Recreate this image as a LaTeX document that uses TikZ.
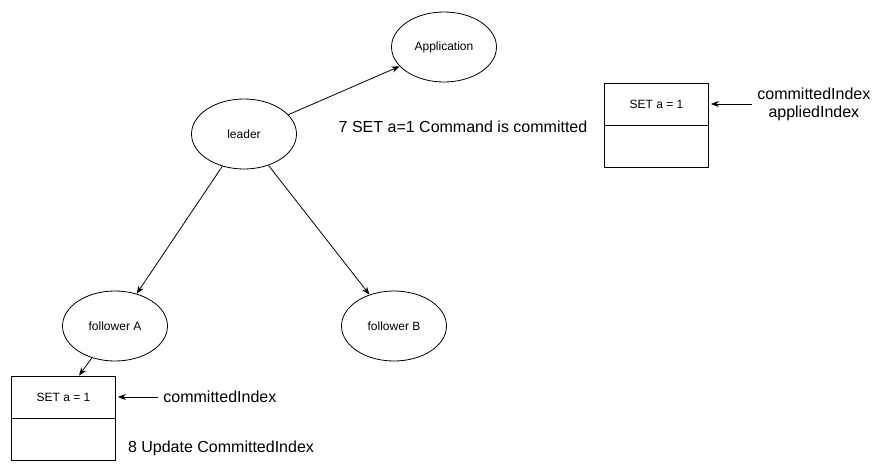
\documentclass[tikz,border=0pt]{standalone}
\usepackage{fontspec}
\setmainfont{Liberation Sans}
\usetikzlibrary{arrows.meta, positioning, shapes.geometric}

\begin{document}
\begin{tikzpicture}[->, >={Stealth[length=8pt, width=6pt]},
			x=1pt, y=-1pt, line width=0.8pt,
			every node/.style={font=\fontsize{12}{14}\selectfont},
			proc/.style={ellipse, draw, minimum width=105pt, minimum height=70pt, inner sep=0pt},
			cell/.style={rectangle, draw, minimum width=104pt, minimum height=42pt, inner sep=0pt},
			note/.style={font=\fontsize{16}{18}\selectfont, inner sep=3pt}]
			
			\useasboundingbox (0,0) rectangle (887,472);
			
			% Nodi del cluster
			\node[proc] (app) at (444,47) {Application};
			\node[proc] (leader) at (244,134) {leader};
			\node[proc] (folA) at (115,326) {follower A};
			\node[proc] (folB) at (394,326) {follower B};
			
			% Log del leader
			\node[cell] (logB1) at (656.5,104) {SET a = 1};
			\node[cell, below=0pt of logB1] (logB2) {};
			\node[note, align=center, anchor=west] (idxB) at (754,104) {committedIndex\\appliedIndex};
			
			% Log del follower A
			\node[cell] (logA1) at (63.5,397) {SET a = 1};
			\node[cell, below=0pt of logA1] (logA2) {};
			\node[note, anchor=west] (idxA) at (160,397) {committedIndex};
			
			% Etichette dei passi
			\node[note] (step7) at (463,127) {7 SET a=1 Command is committed};
			\node[note] (step8) at (221,448) {8 Update CommittedIndex};
			
			% --- Frecce ---
			\draw (leader) -- (app);
			\draw (leader) -- (folA);
			\draw (leader) -- (folB);
			\draw (folA) -- (logA1);
			
			% Indici
			\draw[shorten <=2pt, shorten >=2pt] (idxA.west) -- (logA1.east);
			\draw[shorten <=2pt, shorten >=2pt] (idxB.west) -- (logB1.east);
			
		\end{tikzpicture}
\end{document}
